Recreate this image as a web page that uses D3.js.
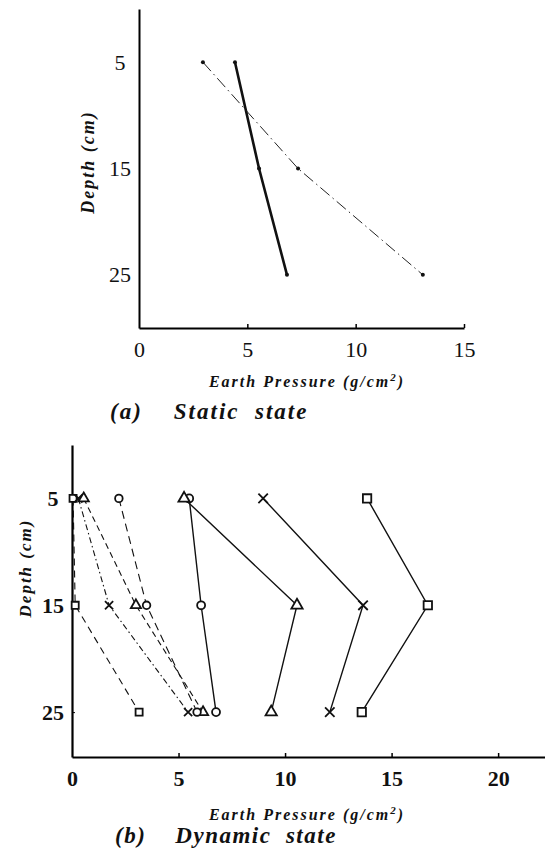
<!DOCTYPE html>
<html>
<head>
<meta charset="utf-8">
<script src="https://cdn.jsdelivr.net/npm/d3@7"></script>
<style>
  body { margin: 0; background: #fff; }
  svg { display: block; }
  text { font-family: "Liberation Serif", "Times New Roman", Times, serif; fill: #111; }
</style>
</head>
<body>
<div id="chart"></div>
<script>
// depths (cm) shared by every series
const depths = [5, 15, 25];

// (a) static state, earth pressure g/cm2
const staticSolid = [4.43, 5.54, 6.83];
const staticDashDot = [2.95, 7.34, 13.1];

// (b) dynamic state, solid lines
const dynCircleSolid = [5.5, 6.06, 6.76];
const dynTriangleSolid = [5.26, 10.56, 9.35];
const dynCrossSolid = [8.97, 13.66, 12.1];
const dynSquareSolid = [13.85, 16.7, 13.6];

// (b) dynamic state, dashed lines
const dynCircleDashed = [2.2, 3.5, 5.87];
const dynTriangleDashed = [0.55, 3.0, 6.15];
const dynCrossDashed = [0.3, 1.74, 5.45];
const dynSquareDashed = [0.05, 0.15, 3.15];

// tick labels
const depthTicks = [5, 15, 25];
const staticPressureTicks = [0, 5, 10, 15];
const dynamicPressureTicks = [0, 5, 10, 15, 20];

const W = 545, H = 849;
const serif = '"Liberation Serif", "Times New Roman", Times, serif';

const svg = d3.select("#chart")
  .append("svg")
    .attr("width", W)
    .attr("height", H);

const toPts = vals => vals.map((v, i) => ({p: v, d: depths[i]}));

// ---------- (a) static ----------
const xA = d3.scaleLinear().domain([0, 15]).range([139, 464]);
const yA = d3.scaleLinear().domain([0, 30]).range([9, 328]);

const gA = svg.append("g");

gA.append("g")
  .attr("transform", `translate(0, ${yA(30)})`)
  .call(d3.axisBottom(xA).tickValues(staticPressureTicks).tickSize(-4).tickSizeOuter(0))
  .call(g => g.select(".domain").attr("stroke-width", 2))
  .call(g => g.selectAll(".tick line").attr("stroke-width", 1.5))
  .call(g => g.selectAll(".tick").filter(d => d === 0).select("line").remove())
  .call(g => g.selectAll(".tick text")
      .attr("y", 13).style("font-size", "22px").style("font-family", serif));

gA.append("g")
  .attr("transform", `translate(${xA(0)}, 0)`)
  .call(d3.axisLeft(yA).tickValues(depthTicks).tickSize(0).tickSizeOuter(0))
  .call(g => g.select(".domain").attr("stroke-width", 2))
  .call(g => g.selectAll(".tick text")
      .attr("x", -19).attr("text-anchor", "middle")
      .style("font-size", "22px").style("font-family", serif));

const lineA = d3.line()
  .x(d => xA(d.p))
  .y(d => yA(d.d));

gA.append("path")
  .datum(toPts(staticSolid))
  .attr("d", lineA)
  .attr("fill", "none")
  .attr("stroke", "#111")
  .attr("stroke-width", 2.6);

gA.append("path")
  .datum(toPts(staticDashDot))
  .attr("d", lineA)
  .attr("fill", "none")
  .attr("stroke", "#222")
  .attr("stroke-width", 1)
  .attr("stroke-dasharray", "12,4,1.5,4");

[staticSolid, staticDashDot].forEach(s => {
  gA.selectAll(null)
    .data(toPts(s))
    .enter()
    .append("circle")
      .attr("cx", d => xA(d.p))
      .attr("cy", d => yA(d.d))
      .attr("r", 2)
      .attr("fill", "#111");
});

// y label
gA.append("text")
  .attr("transform", "translate(94, 162) rotate(-90)")
  .attr("text-anchor", "middle")
  .style("font-size", "18px")
  .style("font-style", "italic")
  .style("font-weight", "bold")
  .attr("letter-spacing", 2)
  .text("Depth (cm)");

// x label
gA.append("text")
  .attr("x", 307)
  .attr("y", 387)
  .attr("text-anchor", "middle")
  .style("font-size", "16px")
  .style("font-style", "italic")
  .style("font-weight", "bold")
  .attr("letter-spacing", 2)
  .html("Earth Pressure (g/cm<tspan font-size='11' dy='-6'>2</tspan><tspan dy='6'>)</tspan>");

gA.append("text")
  .attr("x", 110)
  .attr("y", 419)
  .style("font-size", "23px")
  .style("font-style", "italic")
  .style("font-weight", "bold")
  .attr("letter-spacing", 2)
  .style("white-space", "pre")
  .text("(a)    Static  state");

// ---------- (b) dynamic ----------
const xB = d3.scaleLinear().domain([0, 22.2]).range([72, 545]);
const yB = d3.scaleLinear().domain([0, 29.2]).range([445, 757]);

const gB = svg.append("g");

gB.append("g")
  .attr("transform", `translate(0, ${yB(29.2)})`)
  .call(d3.axisBottom(xB).tickValues(dynamicPressureTicks).tickSize(-4).tickSizeOuter(0))
  .call(g => g.select(".domain").attr("stroke-width", 2))
  .call(g => g.selectAll(".tick line").attr("stroke-width", 1.5))
  .call(g => g.selectAll(".tick").filter(d => d === 0).select("line").remove())
  .call(g => g.selectAll(".tick text")
      .attr("y", 13).style("font-size", "22px").style("font-weight", "bold")
      .style("font-family", serif));

gB.append("g")
  .attr("transform", `translate(${xB(0)}, 0)`)
  .call(d3.axisLeft(yB).tickValues(depthTicks).tickSize(-3).tickSizeOuter(0))
  .call(g => g.select(".domain").attr("stroke-width", 2.2))
  .call(g => g.selectAll(".tick text")
      .attr("x", -19).attr("text-anchor", "middle")
      .style("font-size", "22px").style("font-weight", "bold")
      .style("font-family", serif));

const lineB = d3.line()
  .x(d => xB(d.p))
  .y(d => yB(d.d));

const symX = d3.symbolTimes || d3.symbolX;

const dynSeries = [
  {vals: dynSquareDashed,   sym: d3.symbolSquare,   size: 50, dash: "7,5",       w: 1.1},
  {vals: dynCrossDashed,    sym: symX,              size: 45, dash: "6,3,1.5,3", w: 1.1},
  {vals: dynTriangleDashed, sym: d3.symbolTriangle, size: 45, dash: "6,4",       w: 1.1},
  {vals: dynCircleDashed,   sym: d3.symbolCircle,   size: 45, dash: "8,5",       w: 1.1},
  {vals: dynCircleSolid,    sym: d3.symbolCircle,   size: 50, dash: null,        w: 1.4},
  {vals: dynTriangleSolid,  sym: d3.symbolTriangle, size: 55, dash: null,        w: 1.4},
  {vals: dynCrossSolid,     sym: symX,              size: 60, dash: null,        w: 1.4},
  {vals: dynSquareSolid,    sym: d3.symbolSquare,   size: 70, dash: null,        w: 1.4}
];

dynSeries.forEach(s => {
  gB.append("path")
    .datum(toPts(s.vals))
    .attr("d", lineB)
    .attr("fill", "none")
    .attr("stroke", "#111")
    .attr("stroke-width", s.w)
    .attr("stroke-dasharray", s.dash);
});

dynSeries.forEach(s => {
  gB.selectAll(null)
    .data(toPts(s.vals))
    .enter()
    .append("path")
      .attr("transform", d => `translate(${xB(d.p)}, ${yB(d.d)})`)
      .attr("d", d3.symbol().type(s.sym).size(s.size))
      .attr("fill", s.sym === symX ? "none" : "#fff")
      .attr("stroke", "#111")
      .attr("stroke-width", 1.8);
});

gB.append("text")
  .attr("transform", "translate(31, 568) rotate(-90)")
  .attr("text-anchor", "middle")
  .style("font-size", "17px")
  .style("font-style", "italic")
  .style("font-weight", "bold")
  .attr("letter-spacing", 2)
  .text("Depth (cm)");

gB.append("text")
  .attr("x", 307)
  .attr("y", 820)
  .attr("text-anchor", "middle")
  .style("font-size", "16px")
  .style("font-style", "italic")
  .style("font-weight", "bold")
  .attr("letter-spacing", 2)
  .html("Earth Pressure (g/cm<tspan font-size='11' dy='-6'>2</tspan><tspan dy='6'>)</tspan>");

gB.append("text")
  .attr("x", 115)
  .attr("y", 843)
  .style("font-size", "23px")
  .style("font-style", "italic")
  .style("font-weight", "bold")
  .attr("letter-spacing", 1.5)
  .style("white-space", "pre")
  .text("(b)    Dynamic  state");
</script>
</body>
</html>
